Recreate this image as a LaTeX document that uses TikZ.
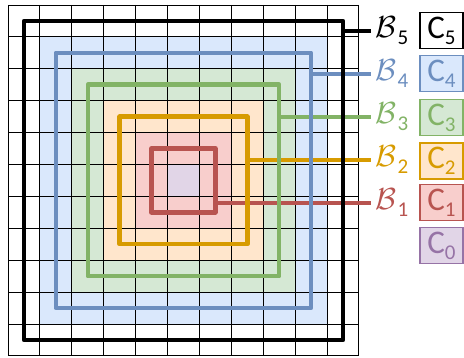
\documentclass[tikz,border=0pt]{standalone}
\usepackage{graphicx}
\usepackage{fontspec}
\setmainfont{Carlito}
\definecolor{bluef}{HTML}{DAE8FC}
\definecolor{bluel}{HTML}{6C8EBF}
\definecolor{greenf}{HTML}{D5E8D4}
\definecolor{greenl}{HTML}{82B366}
\definecolor{orangef}{HTML}{FFE6CC}
\definecolor{orangel}{HTML}{D79B00}
\definecolor{redf}{HTML}{F8CECC}
\definecolor{redl}{HTML}{B85450}
\definecolor{purplef}{HTML}{E1D5E7}
\definecolor{purplel}{HTML}{9673A6}
\newcommand{\mysub}[1]{\raisebox{-6pt}{\fontsize{21}{21}\selectfont #1}}
\newcommand{\blab}[1]{\scalebox{3.05}{$\mathcal{B}$}\kern1.5pt\raisebox{-7pt}{\fontsize{21}{21}\selectfont #1}}
\tikzset{
  gridline/.style={black, line width=0.9pt},
  frame/.style={draw, line width=4.5pt, inner sep=0pt, outer sep=0pt, line join=round, shape=rectangle},
  conn/.style={line width=4.5pt},
  blabel/.style={anchor=base west, inner sep=0pt},
  cbox/.style={draw, line width=1.5pt, minimum width=43pt, minimum height=36pt, inner sep=0pt,
    font=\fontsize{33}{33}\selectfont}
}
\begin{document}
\begin{tikzpicture}[x=1pt,y=-1pt]
\useasboundingbox (0,0) rectangle (464,358);
% connector end points
\coordinate (e5) at (371,31);
\coordinate (e4) at (371,74);
\coordinate (e3) at (371,117);
\coordinate (e2) at (371,160);
\coordinate (e1) at (371,203);
\begin{scope}[shift={(8,5)}, x=31.9pt, y=-31.9pt]
  \fill[bluef] (1,1) rectangle (10,10);
  \fill[greenf] (2,2) rectangle (9,9);
  \fill[orangef] (3,3) rectangle (8,8);
  \fill[redf] (4,4) rectangle (7,7);
  \fill[purplef] (5,5) rectangle (6,6);
  \foreach \i in {0,...,11} {
    \draw[gridline] (\i,0) -- (\i,11);
    \draw[gridline] (0,\i) -- (11,\i);
  }
  \node[frame, draw=redl, minimum size=63.8pt] (B1) at (5.5,5.5) {};
  \draw[conn, redl] (B1.east |- e1) -- (e1);
  \node[frame, draw=orangel, minimum size=127.6pt] (B2) at (5.5,5.5) {};
  \draw[conn, orangel] (B2.east |- e2) -- (e2);
  \node[frame, draw=greenl, minimum size=191.4pt] (B3) at (5.5,5.5) {};
  \draw[conn, greenl] (B3.east |- e3) -- (e3);
  \node[frame, draw=bluel, minimum size=255.2pt] (B4) at (5.5,5.5) {};
  \draw[conn, bluel] (B4.east |- e4) -- (e4);
  \node[frame, draw=black, minimum size=319pt] (B5) at (5.5,5.5) {};
  \draw[conn, black] (B5.east |- e5) -- (e5);
\end{scope}
% labels
\node[blabel, text=black]   (L5) at ([xshift=4pt,yshift=-7pt]e5) {\blab{5}};
\node[blabel, text=bluel]   (L4) at ([xshift=4pt,yshift=-7pt]e4) {\blab{4}};
\node[blabel, text=greenl]  (L3) at ([xshift=4pt,yshift=-7pt]e3) {\blab{3}};
\node[blabel, text=orangel] (L2) at ([xshift=4pt,yshift=-7pt]e2) {\blab{2}};
\node[blabel, text=redl]    (L1) at ([xshift=4pt,yshift=-7pt]e1) {\blab{1}};
% legend boxes
\node[cbox, draw=black, fill=white, text=black]        (C5) at (441.5,30.5)  {C\mysub{5}};
\node[cbox, draw=bluel, fill=bluef, text=bluel]        (C4) at (441.5,73.5)  {C\mysub{4}};
\node[cbox, draw=greenl, fill=greenf, text=greenl]     (C3) at (441.5,117.5) {C\mysub{3}};
\node[cbox, draw=orangel, fill=orangef, text=orangel]  (C2) at (441.5,161)   {C\mysub{2}};
\node[cbox, draw=redl, fill=redf, text=redl]           (C1) at (441.5,202.5) {C\mysub{1}};
\node[cbox, draw=purplel, fill=purplef, text=purplel]  (C0) at (441.5,245.5) {C\mysub{0}};
\end{tikzpicture}
\end{document}
